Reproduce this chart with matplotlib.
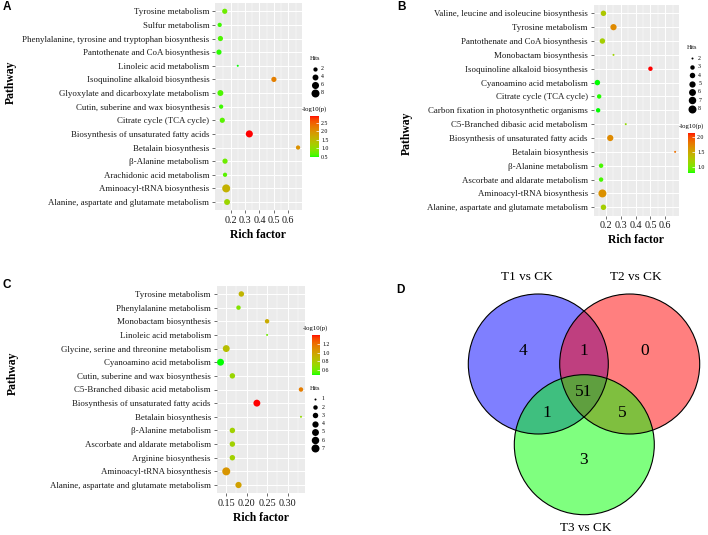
import numpy as np
import matplotlib
matplotlib.use("Agg")
import matplotlib.pyplot as plt
from matplotlib.colors import ListedColormap, Normalize
from matplotlib.patches import Circle
import matplotlib.cm as cm

plt.rcParams['font.family'] = ['Liberation Serif', 'DejaVu Serif']

# ---- panel A data (listed top to bottom) ----
path_a = ['Tyrosine metabolism', 'Sulfur metabolism',
          'Phenylalanine, tyrosine and tryptophan biosynthesis',
          'Pantothenate and CoA biosynthesis', 'Linoleic acid metabolism',
          'Isoquinoline alkaloid biosynthesis',
          'Glyoxylate and dicarboxylate metabolism',
          'Cutin, suberine and wax biosynthesis', 'Citrate cycle (TCA cycle)',
          'Biosynthesis of unsaturated fatty acids', 'Betalain biosynthesis',
          'β-Alanine metabolism', 'Arachidonic acid metabolism',
          'Aminoacyl-tRNA biosynthesis',
          'Alanine, aspartate and glutamate metabolism']
rich_a = [0.16, 0.125, 0.13, 0.12, 0.25, 0.50, 0.13, 0.135, 0.143, 0.33,
          0.667, 0.162, 0.162, 0.17, 0.176]
hits_a = [3, 2, 3, 3, 1, 3, 4, 2, 3, 6, 2, 3, 2, 8, 4]
logp_a = [0.75, 0.55, 0.6, 0.5, 0.46, 2.2, 0.6, 0.55, 0.65, 2.9, 2.0,
          0.75, 0.65, 1.6, 1.1]

# ---- panel B data ----
path_b = ['Valine, leucine and isoleucine biosynthesis', 'Tyrosine metabolism',
          'Pantothenate and CoA biosynthesis', 'Monobactam biosynthesis',
          'Isoquinoline alkaloid biosynthesis', 'Cyanoamino acid metabolism',
          'Citrate cycle (TCA cycle)',
          'Carbon fixation in photosynthetic organisms',
          'C5-Branched dibasic acid metabolism',
          'Biosynthesis of unsaturated fatty acids', 'Betalain biosynthesis',
          'β-Alanine metabolism', 'Ascorbate and aldarate metabolism',
          'Aminoacyl-tRNA biosynthesis',
          'Alanine, aspartate and glutamate metabolism']
rich_b = [0.182, 0.25, 0.175, 0.25, 0.50, 0.141, 0.153, 0.146, 0.333, 0.228,
          0.667, 0.166, 0.166, 0.175, 0.182]
hits_b = [4, 5, 4, 2, 3, 4, 3, 3, 2, 5, 2, 3, 3, 8, 4]
logp_b = [1.25, 1.7, 1.2, 1.15, 2.16, 0.78, 0.8, 0.78, 1.1, 1.7, 1.85,
          0.85, 0.85, 1.65, 1.2]

# ---- panel C data ----
path_c = ['Tyrosine metabolism', 'Phenylalanine metabolism',
          'Monobactam biosynthesis', 'Linoleic acid metabolism',
          'Glycine, serine and threonine metabolism',
          'Cyanoamino acid metabolism', 'Cutin, suberine and wax biosynthesis',
          'C5-Branched dibasic acid metabolism',
          'Biosynthesis of unsaturated fatty acids', 'Betalain biosynthesis',
          'β-Alanine metabolism', 'Ascorbate and aldarate metabolism',
          'Arginine biosynthesis', 'Aminoacyl-tRNA biosynthesis',
          'Alanine, aspartate and glutamate metabolism']
rich_c = [0.187, 0.18, 0.25, 0.25, 0.15, 0.136, 0.165, 0.333, 0.225, 0.333,
          0.165, 0.165, 0.165, 0.15, 0.18]
hits_c = [3, 2, 2, 1, 5, 5, 3, 2, 5, 1, 3, 3, 3, 7, 4]
logp_c = [0.9, 0.65, 0.95, 0.6, 0.85, 0.485, 0.72, 1.15, 1.41, 0.7,
          0.75, 0.75, 0.75, 1.05, 1.0]

# ---- panel D (Venn) ----
venn_sets = ['T1 vs CK', 'T2 vs CK', 'T3 vs CK']
venn_counts = [4, 1, 0, 1, 51, 5, 3]  # T1, T1&T2, T2, T1&T3, all, T2&T3, T3

W, H = 708, 535


def px_rect(x0, y0, x1, y1):
    return [x0 / W, 1 - y1 / H, (x1 - x0) / W, (y1 - y0) / H]


# ggplot-like green -> red gradient interpolated in CIE Lab
M = np.array([[0.4124, 0.3576, 0.1805],
              [0.2126, 0.7152, 0.0722],
              [0.0193, 0.1192, 0.9505]])
WHITE = np.array([0.95047, 1.0, 1.08883])


def srgb_to_lab(c):
    c = np.asarray(c, float)
    lin = np.where(c <= 0.04045, c / 12.92, ((c + 0.055) / 1.055) ** 2.4)
    t = (M @ lin) / WHITE
    f = np.where(t > (6 / 29) ** 3, np.cbrt(t), t / (3 * (6 / 29) ** 2) + 4 / 29)
    return np.array([116 * f[1] - 16, 500 * (f[0] - f[1]), 200 * (f[1] - f[2])])


def lab_to_srgb(lab):
    L, a, b = lab
    fy = (L + 16) / 116
    f = np.array([fy + a / 500, fy, fy - b / 200])
    t = np.where(f > 6 / 29, f ** 3, 3 * (6 / 29) ** 2 * (f - 4 / 29))
    lin = np.clip(np.linalg.inv(M) @ (t * WHITE), 0, 1)
    c = np.where(lin <= 0.0031308, 12.92 * lin, 1.055 * lin ** (1 / 2.4) - 0.055)
    return np.clip(c, 0, 1)


lo_lab, hi_lab = srgb_to_lab([0, 1, 0]), srgb_to_lab([1, 0, 0])
cmap = ListedColormap([lab_to_srgb(lo_lab + t * (hi_lab - lo_lab))
                       for t in np.linspace(0, 1, 256)])


def dot_diam(h, hmin, hmax):
    # ggplot scale_size (area) -> diameter in pixels
    return 2.0 + 6.0 * np.sqrt((np.asarray(h, float) - hmin) / (hmax - hmin))


def bubble_panel(fig, ov, rect, pathways, rich, hits, logp, xticks, xfmt,
                 hit_breaks, hit_leg, cb_rect, cb_ticks):
    ax = fig.add_axes(px_rect(*rect))
    n = len(pathways)
    ypos = np.arange(n)[::-1] + 1
    hmin, hmax = min(hits), max(hits)
    s = (dot_diam(hits, hmin, hmax) * 0.72) ** 2
    norm = Normalize(min(logp), max(logp))
    ax.scatter(rich, ypos, s=s, c=logp, cmap=cmap, norm=norm,
               linewidths=0, zorder=3)
    ax.set_yticks(ypos)
    ax.set_yticklabels(pathways)
    ax.set_ylim(0.4, n + 0.6)
    lo, hi = min(rich), max(rich)
    pad = 0.05 * (hi - lo)
    ax.set_xlim(lo - pad, hi + pad)
    ax.set_xticks(xticks)
    ax.set_xticklabels([xfmt % v for v in xticks])
    step = xticks[1] - xticks[0]
    minors = np.arange(xticks[0] - step / 2, xticks[-1] + step, step)
    ax.set_xticks([m for m in minors if lo - pad < m < hi + pad], minor=True)
    ax.set_facecolor('#EBEBEB')
    ax.grid(which='major', color='white', lw=0.7)
    ax.grid(which='minor', axis='x', color='white', lw=0.35)
    ax.set_axisbelow(True)
    for sp in ax.spines.values():
        sp.set_visible(False)
    ax.tick_params(axis='y', length=2, width=0.5, color='#333333',
                   labelsize=6.4, pad=2, labelcolor='#1a1a1a')
    ax.tick_params(axis='x', length=2, width=0.5, color='#333333',
                   labelsize=7.3, pad=2, labelcolor='#1a1a1a')
    ax.tick_params(which='minor', length=0)
    ax.set_xlabel('Rich factor', fontsize=8.4, fontweight='bold', labelpad=3)

    # Hits legend
    hx, hy0, hstep = hit_leg
    ov.text(hx, hy0 - 11, 'Hits', fontsize=4.5, ha='center', va='center')
    d = dot_diam(hit_breaks, hmin, hmax)
    for i, (b, di) in enumerate(zip(hit_breaks, d)):
        yy = hy0 + i * hstep
        ov.scatter([hx], [yy], s=(di * 0.72) ** 2, color='black', linewidths=0)
        ov.text(hx + 6.5, yy, str(b), fontsize=4.2, ha='left', va='center')

    # colour bar
    x0, y0, x1, y1 = cb_rect
    cax = fig.add_axes(px_rect(*cb_rect))
    cb = fig.colorbar(cm.ScalarMappable(norm=norm, cmap=cmap), cax=cax,
                      ticks=cb_ticks)
    cb.outline.set_visible(False)
    cb.ax.set_yticklabels(['%.1f' % t for t in cb_ticks])
    cax.tick_params(length=2, width=0.5, color='white', direction='in',
                    labelsize=4.2, pad=1.5)
    ov.text((x0 + x1) / 2, y0 - 6.5, '-log10(p)', fontsize=4.8,
            ha='center', va='center')
    return ax


fig = plt.figure(figsize=(W / 100, H / 100), dpi=100)
ov = fig.add_axes([0, 0, 1, 1], zorder=5)
ov.set_xlim(0, W)
ov.set_ylim(H, 0)
ov.axis('off')

bubble_panel(fig, ov, (215, 3.1, 302, 210.2), path_a, rich_a, hits_a, logp_a,
             [0.2, 0.3, 0.4, 0.5, 0.6], '%.1f', [2, 4, 6, 8],
             (314.7, 69, 7.9), (310, 116, 319, 157.3),
             [0.5, 1.0, 1.5, 2.0, 2.5])
bubble_panel(fig, ov, (593.5, 5, 679, 215.6), path_b, rich_b, hits_b, logp_b,
             [0.2, 0.3, 0.4, 0.5, 0.6], '%.1f', [2, 3, 4, 5, 6, 7, 8],
             (691.7, 58.3, 8.4), (687.7, 132.7, 695, 173),
             [1.0, 1.5, 2.0])
bubble_panel(fig, ov, (216.5, 285.8, 305, 493.2), path_c, rich_c, hits_c,
             logp_c, [0.15, 0.20, 0.25, 0.30], '%.2f',
             [1, 2, 3, 4, 5, 6, 7], (315.3, 399, 8.2),
             (311.7, 335, 320, 375), [0.6, 0.8, 1.0, 1.2])

# axis titles "Pathway"
for (x, y) in [(10.5, 82), (407, 133), (13, 373)]:
    ov.text(x, y, 'Pathway', fontsize=8.4, fontweight='bold', rotation=90,
            ha='center', va='center')

# panel letters
for lab, (x, y) in zip('ABCD', [(7, 7), (401, 7), (7, 285), (400, 290)]):
    ov.text(x, y, lab, fontsize=8.5, fontweight='bold', ha='center',
            va='center', family='Liberation Sans')

# Venn diagram
centres = [(538.3, 364), (629.7, 364), (584.3, 444.7)]
radius = 70
fills = ['#0000FF', '#FF0000', '#00FF00']
for (cx, cy), col in zip(centres, fills):
    ov.add_patch(Circle((cx, cy), radius, facecolor=col, alpha=0.5,
                        edgecolor='none'))
for (cx, cy) in centres:
    ov.add_patch(Circle((cx, cy), radius, fill=False, edgecolor='black',
                        lw=0.8))
count_pos = [(523.3, 351), (584.3, 351), (645, 351), (546.7, 413),
             (583.3, 391.7), (622, 413), (584, 460)]
for (x, y), v in zip(count_pos, venn_counts):
    ov.text(x, y, str(v), fontsize=12.5, ha='center', va='center')
for (x, y), name in zip([(527.3, 277), (636, 277), (586, 528)], venn_sets):
    ov.text(x, y, name, fontsize=9.5, ha='center', va='center')

fig.savefig('out.png', dpi=100)
